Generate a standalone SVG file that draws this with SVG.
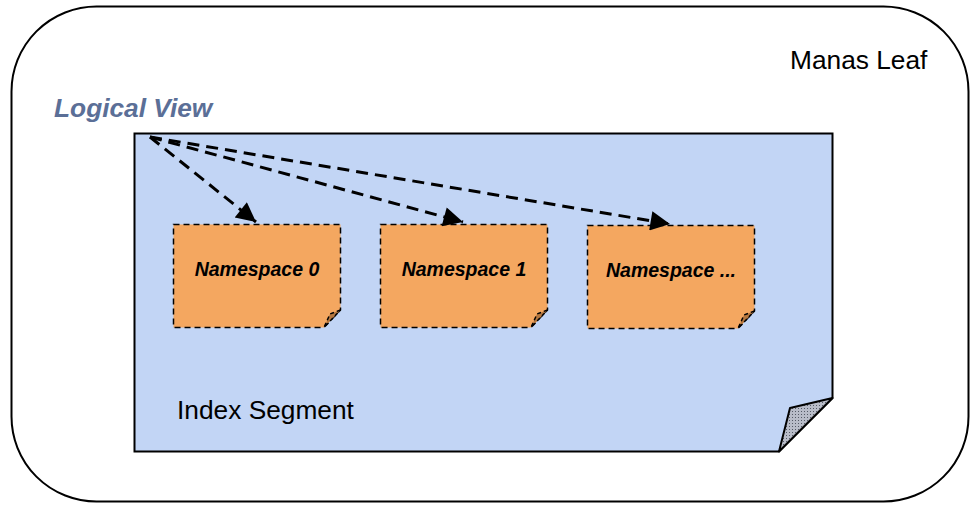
<svg xmlns="http://www.w3.org/2000/svg" width="980" height="510" viewBox="0 0 980 510">
<defs>
<pattern id="dots" width="3" height="3" patternUnits="userSpaceOnUse"><rect width="3" height="3" fill="#b8bcc8"/><rect width="1" height="1" fill="#555a66"/></pattern>
<marker id="ah" viewBox="0 0 10 10" refX="10" refY="5" markerWidth="7" markerHeight="6.5" orient="auto" markerUnits="strokeWidth"><path d="M0,0 L10,5 L0,10 z" fill="#000"/></marker>
</defs>
<style>
.ns{fill:#f4a760;stroke:#000;stroke-width:1.5;stroke-dasharray:6,4}
.nsfold{fill:#b5773f;stroke:#000;stroke-width:1.5;stroke-dasharray:4,3}
.nst{font-family:"Liberation Sans",Arial,sans-serif;font-weight:bold;font-style:italic;font-size:19.5px;fill:#000;text-anchor:middle}
.conn{fill:none;stroke:#000;stroke-width:3;stroke-dasharray:12,7;marker-end:url(#ah)}
.lbl{font-family:"Liberation Sans",Arial,sans-serif;font-size:26.3px;fill:#000}
</style>
<g id="manas-leaf">
<rect x="11.5" y="6.5" width="957" height="495" rx="85" ry="85" fill="#fff" stroke="#000" stroke-width="2"/>
<text class="lbl" x="790" y="69">Manas Leaf</text>
</g>
<g id="index-segment">
<path d="M134.5,133.5 H832.5 V398 L779,451.5 H134.5 Z" fill="#c2d5f5" stroke="#000" stroke-width="2"/>
<path d="M832.5,398 L790,408 L779,451.5 Z" fill="url(#dots)" stroke="#000" stroke-width="2" stroke-linejoin="round"/>
<text class="lbl" x="177" y="419">Index Segment</text>
</g>
<g id="logical-view">
<text x="54" y="117" font-family="Liberation Sans,Arial,sans-serif" font-weight="bold" font-style="italic" font-size="26.3" fill="#5b6f97">Logical View</text>
</g>
<g id="namespace-0">
<path class="ns" d="M173.5,224.5 H340.5 V310 L324,327.5 H173.5 Z"/>
<path class="nsfold" d="M340.5,310 L330,314 L324,327.5 Z"/>
<text class="nst" x="257" y="276">Namespace 0</text>
</g>
<g id="namespace-1">
<path class="ns" d="M380.5,224.5 H547.5 V310 L531,327.5 H380.5 Z"/>
<path class="nsfold" d="M547.5,310 L537,314 L531,327.5 Z"/>
<text class="nst" x="464" y="276">Namespace 1</text>
</g>
<g id="namespace-2">
<path class="ns" d="M587.5,225.5 H754.5 V311 L738,328.5 H587.5 Z"/>
<path class="nsfold" d="M754.5,311 L744,315 L738,328.5 Z"/>
<text class="nst" x="671" y="277">Namespace ...</text>
</g>
<g id="connectors">
<line class="conn" x1="150" y1="137" x2="256" y2="222"/>
<line class="conn" x1="150" y1="137" x2="463" y2="222"/>
<line class="conn" x1="150" y1="137" x2="670" y2="224"/>
</g>
</svg>
